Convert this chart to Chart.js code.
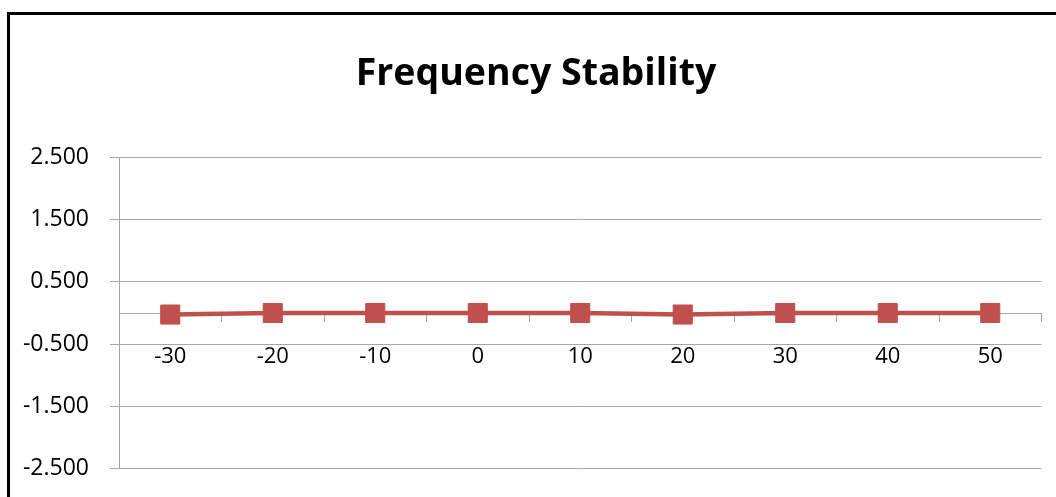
<!DOCTYPE html>
<html><head><meta charset="utf-8">
<script src="https://cdn.jsdelivr.net/npm/chart.js@4/dist/chart.umd.min.js"></script>
<style>
html,body{margin:0;padding:0;background:#fff;overflow:hidden;}
#wrap{position:absolute;left:16px;top:0;width:1040px;height:497px;}
#frame{position:absolute;left:7px;top:12px;width:1100px;height:600px;border-left:3px solid #000;border-top:3px solid #000;pointer-events:none;}
</style></head><body>
<div id="wrap"><canvas id="c"></canvas></div>
<div id="frame"></div>
<script>
const categories = ['-30', '-20', '-10', '0', '10', '20', '30', '40', '50'];
const stabilityValues = [-0.025, 0, 0, 0, 0, -0.025, 0, 0, 0];
const yTickValues = [-2.5, -1.5, -0.5, 0.5, 1.5, 2.5];
const chartTitle = 'Frequency Stability';

const gridGray = '#A6A6A6';
const red = '#C0504D';
Chart.defaults.font.family = "'Open Sans', 'Noto Sans', sans-serif";
Chart.defaults.color = '#000';

new Chart(document.getElementById('c'), {
  type: 'line',
  data: {
    labels: categories,
    datasets: [{
      data: stabilityValues,
      borderColor: red,
      backgroundColor: red,
      borderWidth: 4.5,
      pointStyle: 'rect',
      pointRadius: 13.5,
      pointBorderWidth: 1,
      pointBorderColor: red,
      pointBackgroundColor: red,
      tension: 0
    }]
  },
  options: {
    responsive: true,
    maintainAspectRatio: false,
    animation: false,
    events: [],
    layout: { padding: { left: 0, right: 0, top: 0, bottom: 28.7 } },
    plugins: {
      legend: { display: false },
      tooltip: { enabled: false },
      title: {
        display: true,
        text: chartTitle,
        color: '#000',
        font: { size: 37.5, weight: 'bold' },
        padding: { top: 52, bottom: 60.7 }
      }
    },
    scales: {
      x: {
        type: 'category',
        position: { y: 0 },
        offset: true,
        grid: { offset: true, drawOnChartArea: false, drawTicks: true, tickLength: 8, color: gridGray },
        border: { color: gridGray, width: 1 },
        ticks: { font: { size: 22 }, padding: 22.5, maxRotation: 0, autoSkip: false, color: '#000' }
      },
      y: {
        min: -2.5,
        max: 2.5,
        afterFit: s => { s.width = 103; s.paddingTop = 0; s.paddingBottom = 0; },
        afterBuildTicks: s => { s.ticks = yTickValues.map(v => ({ value: v })); },
        grid: { color: gridGray, tickLength: 9, drawTicks: true },
        border: { color: gridGray, width: 1 },
        ticks: {
          font: { size: 23 },
          padding: 21,
          color: '#000',
          callback: v => Number(v).toFixed(3)
        }
      }
    }
  }
});
</script>
</body></html>
